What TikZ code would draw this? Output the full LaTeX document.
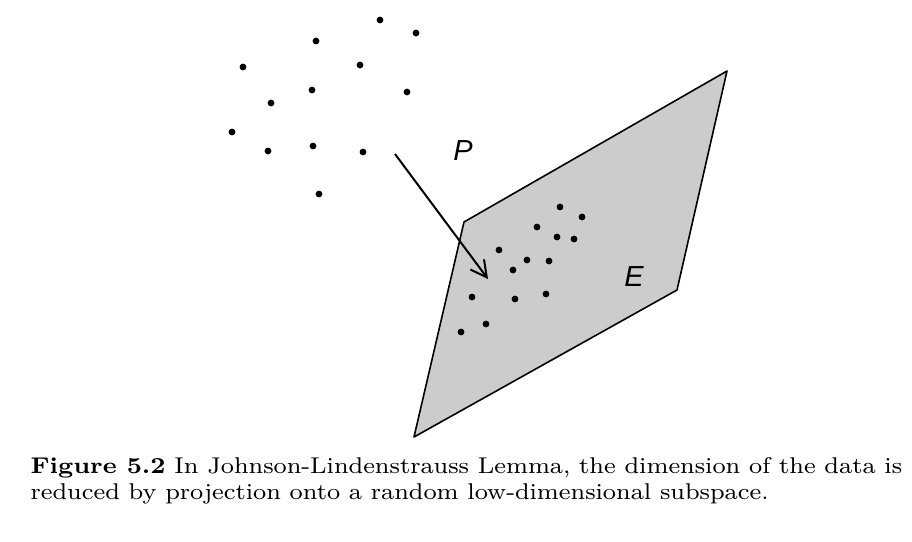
\documentclass[tikz,border=0pt]{standalone}
\usepackage{fontspec}
\newfontfamily\labelfont{Liberation Sans}
\usepackage{tikz}
\usetikzlibrary{positioning,arrows.meta,calc}

\begin{document}
\begin{tikzpicture}[x=1pt, y=-1pt, >={Straight Barb[length=16pt, width=17pt, line width=2pt]},
    every node/.style={inner sep=0pt},
    datadot/.style={fill=black},
    planelbl/.style={font=\labelfont\itshape\fontsize{29}{34}\selectfont}]
  \useasboundingbox (0,0) rectangle (912,541);

  % the subspace E
  \coordinate (ptl) at (464,222);
  \coordinate (ptr) at (727,71);
  \coordinate (pbr) at (677,290);
  \coordinate (pbl) at (414,437);
  \draw[fill=black!20, line width=1.6pt, line join=round] (ptl) -- (ptr) -- (pbr) -- (pbl) -- cycle;

  % original data
  \foreach \x/\y in {380/20, 416/33, 316/41, 243/67, 360/65, 271/103, 312/90,
                     407/92, 232/132, 268/151, 313/146, 363/152, 319/194}
    \fill[datadot] (\x,\y) circle (3.4pt);

  % projected data
  \foreach \x/\y in {560/207, 582/217, 537/227, 557/237, 574/239, 499/250, 527/260,
                     549/261, 513/270, 472/297, 515/299, 546/294, 486/324, 461/332}
    \fill[datadot] (\x,\y) circle (3.4pt);

  \coordinate (src) at (395,154);
  \coordinate (dst) at (488,279);
  \draw[->, line width=2pt] (src) -- (dst);

  \node[planelbl] (plbl) at (463,151) {P};
  \node[planelbl] (elbl) at (634,277) {E};

  \node[anchor=base west, align=left, xscale=3.1, yscale=2.85, transform shape,
        font=\fontsize{8}{9.1}\selectfont] (caption) at (30,499)
    {\textbf{Figure 5.2} In Johnson-Lindenstrauss Lemma, the dimension of the data is\\
     reduced by projection onto a random low-dimensional subspace.};
\end{tikzpicture}
\end{document}
